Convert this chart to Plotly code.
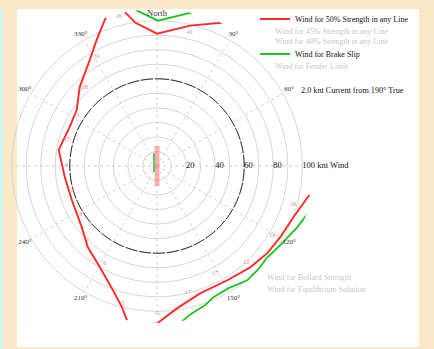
import plotly.graph_objects as go

W, H = 434, 349

# ---- data (theta = degrees true, r = knots of wind) ----
red_theta = [100.8, 110.6, 120.0, 128.3, 137.4, 148.4, 161.3, 172.0, 180.0, 183.6,
             189.0, 193.9, 199.5, 209.4, 220.4, 230.9, 248.2, 263.2, 279.3, 294.1,
             305.0, 315.7, 327.7, 334.5, 341.7, 346.1, 351.3, 0.0, 13.3, 28.4]
red_r = [106.7, 100.2, 97.9, 96.7, 94.7, 92.3, 92.5, 98.9, 108.3, 109.2,
         114.5, 100.2, 90.7, 80.0, 73.4, 66.7, 63.1, 63.9, 68.5, 65.8,
         67.4, 76.1, 86.5, 96.3, 109.7, 115.1, 99.8, 91.0, 99.2, 113.0]

green_theta = [349.2, 351.3, 0.4, 17.7, 22.8, None,
               174.9, 171.7, 167.4, 161.0, 156.9, 149.8, 141.7, 136.1, 129.6, 122.7, 113.5, 106.1]
green_r = [114.4, 109.5, 100.0, 113.6, 121.2, None,
           115.6, 109.4, 104.6, 101.4, 98.3, 97.4, 100.2, 99.5, 98.5, 100.8, 105.3, 109.8]

label_theta = [345.6, 13.9, 331.2, 317.3, 302.0, 286.1, 270.6, 254.1, 237.7, 223.0,
               208.2, 193.9, 179.6, 166.2, 151.5, 137.2, 121.0, 105.6]
label_r = [106.0, 94.5, 85.8, 73.2, 65.1, 64.6, 62.1, 60.3, 62.0, 69.8,
           75.9, 97.4, 101.4, 89.5, 83.9, 90.3, 92.5, 97.4]
label_text = ["16", "41", "31", "28", "21", "15", "9", "8", "8", "7",
              "6", "5", "G", "17", "17", "12", "14", "16"]

current_theta = [0, 0, 180]
current_r = [13.8, 0, 13.8]
slip_theta = [347.0, 206.6]
slip_r = [9.2, 4.6]

ring_r = 60
ring_theta = list(range(0, 361, 2))

grid_r = list(range(10, 101, 10))
spoke_angles = list(range(0, 360, 30))

radial_vals = [20, 40, 60, 80, 100]
radial_text = ["20", "40", "60", "80", "100 knt Wind"]

ang_vals = [0, 30, 60, 120, 150, 210, 240, 300, 330]
ang_text = ["North", "30°", "60°", "120°", "150°", "210°", "240°", "300°", "330°"]

hidden_top = ["Wind for 45% Strength in any Line", "Wind for 40% Strength in any Line"]
hidden_mid = ["Wind for Fender Limit"]
hidden_bot = ["Wind for Bollard Strength", "Wind for Equilibrium Solution"]
note = "2.0 knt Current from 190° True"

SERIF = "Liberation Serif"
RED = "#ff2a2a"
GREEN = "#22c322"
BG = "#fbe8c6"
R_MAX = 108       # radial range shown (frame), grid drawn to 100
LABEL_R = 105     # where the bearing labels sit

fig = go.Figure()

# spokes (dashed) from centre to the 100-knot ring
sp_t, sp_r = [], []
for a in spoke_angles:
    sp_t += [a, a, None]
    sp_r += [0, grid_r[-1], None]
fig.add_trace(go.Scatterpolar(theta=sp_t, r=sp_r, mode="lines", connectgaps=False,
                              line=dict(color="#d2d2d2", width=1, dash="3px,3px"),
                              showlegend=False, hoverinfo="skip"))
fig.add_trace(go.Scatterpolar(theta=ring_theta, r=[ring_r] * len(ring_theta), mode="lines",
                              line=dict(color="#2a2a2a", width=1, dash="12px,2px"),
                              showlegend=False, hoverinfo="skip"))
fig.add_trace(go.Scatterpolar(theta=current_theta, r=current_r, mode="lines",
                              line=dict(color="rgba(255,110,110,0.55)", width=5),
                              showlegend=False, hoverinfo="skip"))
fig.add_trace(go.Scatterpolar(theta=slip_theta, r=slip_r, mode="lines",
                              line=dict(color=GREEN, width=1.5),
                              showlegend=False, hoverinfo="skip"))
fig.add_trace(go.Scatterpolar(theta=red_theta, r=red_r, mode="lines",
                              name="Wind for 50% Strength in any Line",
                              line=dict(color=RED, width=1.9), cliponaxis=False,
                              legend="legend"))
fig.add_trace(go.Scatterpolar(theta=green_theta, r=green_r, mode="lines",
                              name="Wind for Brake Slip", connectgaps=False,
                              line=dict(color=GREEN, width=1.9), cliponaxis=False,
                              legend="legend2"))
fig.add_trace(go.Scatterpolar(theta=label_theta, r=label_r, mode="text", text=label_text,
                              textfont=dict(family=SERIF, size=6, color="#f07a7a"),
                              cliponaxis=False, showlegend=False, hoverinfo="skip"))
fig.add_trace(go.Scatterpolar(theta=[90] * len(radial_vals), r=radial_vals, mode="text",
                              text=radial_text, textposition="middle right",
                              textfont=dict(family=SERIF, size=8.5, color="#111"),
                              cliponaxis=False, showlegend=False, hoverinfo="skip"))
fig.add_trace(go.Scatterpolar(theta=ang_vals, r=[LABEL_R] * len(ang_vals), mode="text",
                              text=ang_text, textposition="middle center",
                              textfont=dict(family=SERIF, size=[8.5] + [7] * (len(ang_vals) - 1),
                                            color="#333"),
                              cliponaxis=False, showlegend=False, hoverinfo="skip"))

cx, cy = 157, 166
R = 157  # pixel radius of the R_MAX frame
fig.update_layout(
    width=W, height=H,
    margin=dict(l=0, r=0, t=0, b=0),
    paper_bgcolor=BG,
    plot_bgcolor="white",
    polar=dict(
        domain=dict(x=[(cx - R) / W, (cx + R) / W], y=[(H - cy - R) / H, (H - cy + R) / H]),
        bgcolor="rgba(0,0,0,0)",
        radialaxis=dict(range=[0, R_MAX], tickvals=grid_r, showticklabels=False,
                        ticks="", showline=False, gridcolor="#d6d6d6", gridwidth=1),
        angularaxis=dict(rotation=90, direction="clockwise", showticklabels=False,
                         ticks="", showline=False, showgrid=False),
    ),
    legend=dict(x=255 / W, y=1 - 19 / H, xanchor="left", yanchor="middle",
                bgcolor="rgba(0,0,0,0)", font=dict(family=SERIF, size=8, color="#111")),
    legend2=dict(x=255 / W, y=1 - 54 / H, xanchor="left", yanchor="middle",
                 bgcolor="rgba(0,0,0,0)", font=dict(family=SERIF, size=8, color="#111")),
    shapes=[
        dict(type="rect", xref="paper", yref="paper", x0=17 / W, x1=419 / W, y0=1 - 347 / H, y1=1 - 9 / H,
             fillcolor="white", line=dict(width=0), layer="below"),
        dict(type="rect", xref="paper", yref="paper", x0=0, x1=3 / W, y0=0, y1=1,
             fillcolor="#cdf6f0", line=dict(width=0), layer="below"),
        dict(type="rect", xref="paper", yref="paper", x0=0, x1=1, y0=1 - 9 / H, y1=1,
             fillcolor=BG, line=dict(width=0), layer="above"),
    ],
)

ann = []
for txt, ypx in zip(hidden_top + hidden_mid, [31, 42, 66]):
    ann.append(dict(text=txt, x=273 / W, y=1 - ypx / H, xref="paper", yref="paper",
                    xanchor="left", yanchor="middle", showarrow=False,
                    font=dict(family=SERIF, size=8, color="#c9c9c9")))
for txt, ypx in zip(hidden_bot, [277, 289]):
    ann.append(dict(text=txt, x=265 / W, y=1 - ypx / H, xref="paper", yref="paper",
                    xanchor="left", yanchor="middle", showarrow=False,
                    font=dict(family=SERIF, size=8, color="#c9c9c9")))
ann.append(dict(text=note, x=299 / W, y=1 - 91 / H, xref="paper", yref="paper",
                xanchor="left", yanchor="middle", showarrow=False,
                font=dict(family=SERIF, size=8.2, color="#111")))
fig.update_layout(annotations=ann)

fig.write_html("out.html")
